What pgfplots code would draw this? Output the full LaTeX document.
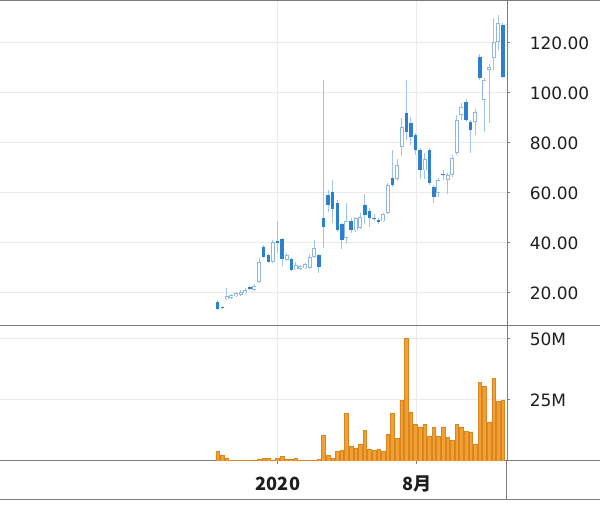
\documentclass[border=0pt]{standalone}
\usepackage{pgfplots}
\pgfplotsset{compat=1.18}
\usepackage{pgfplotstable}
\usepackage{fontspec}
\setmainfont{DejaVu Sans}
\newfontfamily\cjk{Noto Sans CJK JP}
\definecolor{darkblue}{RGB}{45,128,205}
\definecolor{lightblue}{RGB}{140,183,232}
\definecolor{wickblue}{RGB}{160,196,236}
\definecolor{volfill}{RGB}{242,160,50}
\definecolor{voledge}{RGB}{218,134,32}
\definecolor{gridgray}{RGB}{234,234,234}
\definecolor{axisgray}{RGB}{125,125,125}
\definecolor{labelc}{RGB}{30,30,30}

% weekly candles, down (filled) weeks
\pgfplotstableread{
i O H L C
0 16.5 17.0 13.0 13.5
1 14.3 14.6 13.5 13.9
7 22.2 22.8 21.0 21.6
10 38.5 39.2 34.0 34.5
11 35.2 35.5 32.0 32.3
13 40.6 48.9 36.0 39.8
14 41.5 42.0 30.8 33.5
16 33.5 34.0 28.6 29.2
22 35.2 35.6 28.0 30.5
23 49.9 105.2 37.9 46.5
24 59.2 61.0 52.5 55.2
25 60.5 65.0 48.0 53.5
26 55.9 57.2 44.5 45.2
27 47.5 48.0 37.5 41.3
29 48.6 50.0 44.0 45.3
32 55.0 59.5 47.5 51.0
33 52.6 54.0 46.5 49.9
34 50.1 51.5 48.7 49.5
35 49.3 49.9 47.5 48.5
38 65.9 77.0 62.5 63.2
41 91.9 105.2 81.2 84.5
42 87.9 90.5 79.0 82.5
43 83.2 84.0 75.2 77.2
44 77.2 78.0 65.5 69.2
46 77.2 78.0 63.0 63.9
47 62.5 63.0 55.9 58.5
49 67.6 69.0 65.0 67.1
54 96.5 97.5 88.5 89.2
55 88.5 89.0 76.0 85.2
57 114.5 115.5 105.0 105.9
62 127.2 128.0 106.0 106.5
}\downc

% up (hollow) weeks
\pgfplotstableread{
i O H L C
2 17.4 21.8 17.0 18.6
3 18.0 19.7 17.6 19.2
4 18.6 20.3 18.2 19.8
5 19.2 21.0 18.9 20.5
6 19.8 21.8 19.5 21.2
8 21.3 23.6 20.9 22.9
9 24.5 33.9 24.0 32.5
12 32.3 41.2 32.0 40.5
15 33.3 35.8 32.8 35.2
17 29.4 32.5 29.0 31.0
18 29.6 31.0 29.2 30.6
19 29.8 32.0 29.4 31.5
20 30.0 35.5 29.5 34.5
21 34.5 41.0 34.0 37.9
28 41.9 56.0 40.0 48.8
30 45.0 50.5 44.5 49.9
31 46.0 52.0 45.5 50.5
36 48.6 52.0 48.2 51.4
37 52.0 64.0 51.5 63.2
39 65.5 73.5 64.7 71.2
40 78.5 90.0 74.7 86.5
45 69.0 76.0 65.5 73.5
48 60.0 66.0 58.5 65.2
50 65.2 68.0 59.5 67.2
51 67.2 75.0 66.5 73.9
52 76.0 91.0 75.0 89.2
53 91.2 95.8 89.0 94.5
56 88.5 93.5 83.0 92.5
58 97.2 106.0 84.5 105.2
59 109.2 111.5 88.0 110.5
60 114.0 130.0 109.0 120.5
61 120.5 131.2 117.0 127.9
}\upc

% weekly volume, millions
\pgfplotstableread{
i v
0 3.9
1 2.3
2 1.3
3 0.4
4 0.3
5 0.3
6 0.3
7 0.3
8 0.5
9 0.9
10 1.1
11 1.0
12 0.2
13 1.1
14 1.8
15 0.7
16 0.6
17 1.0
18 0.3
19 0.3
20 0.4
21 0.4
22 0.6
23 10.6
24 2.2
25 1.3
26 3.8
27 4.3
28 19.5
29 6.1
30 5.4
31 6.8
32 12.5
33 5.0
34 4.5
35 5.0
36 3.8
37 11.0
38 19.5
39 9.3
40 24.9
41 50.3
42 19.8
43 15.0
44 14.0
45 15.0
46 10.2
47 14.0
48 10.2
49 14.0
50 9.7
51 8.6
52 15.0
53 13.8
54 12.0
55 11.9
56 6.8
57 32.2
58 30.7
59 15.7
60 33.9
61 24.6
62 24.9
}\vol

\pgfplotsset{
  panel/.style={
    scale only axis, width=304.2pt, anchor=south west,
    xmin=-47.33, xmax=62.9,
    axis x line*=bottom, axis y line*=right,
    axis line style={draw=axisgray, line width=0.6pt},
    xtick={13.1,43.3},
    grid=major, grid style={draw=gridgray, line width=0.6pt},
    tick align=outside, major tick length=2pt,
    tick style={draw=axisgray, line width=0.6pt},
    yticklabel style={anchor=west, inner sep=0pt, xshift=11.5pt,
      font=\fontsize{10.2}{12}\selectfont, text=labelc},
  },
  candle/.style={draw=none, mark=none, forget plot,
    error bars/y dir=plus, error bars/y explicit, error bars/error mark=none},
}

\begin{document}
\begin{tikzpicture}
\path[use as bounding box] (0,0) rectangle (360pt,303pt);

\begin{axis}[panel, at={(0pt,107.4pt)}, height=195pt,
  ymin=6.8, ymax=136.8,
  xticklabels={}, xtick style={draw=none},
  ytick={20,40,60,80,100,120},
  yticklabels={20.00,40.00,60.00,80.00,100.00,120.00}]
% wicks
\addplot[candle, error bars/error bar style={draw=wickblue, line width=0.6pt}]
  table[x=i, y=L, y error plus expr=\thisrow{H}-\thisrow{L}] \downc;
\addplot[candle, error bars/error bar style={draw=wickblue, line width=0.6pt}]
  table[x=i, y=L, y error plus expr=\thisrow{H}-\thisrow{L}] \upc;
% filled bodies
\addplot[candle, error bars/error bar style={draw=darkblue, line width=2.1pt}]
  table[x=i, y=C, y error plus expr=\thisrow{O}-\thisrow{C}] \downc;
% hollow bodies
\addplot[candle, error bars/error bar style={draw=lightblue, line width=2.4pt}]
  table[x=i, y=O, y error plus expr=\thisrow{C}-\thisrow{O}] \upc;
\addplot[candle, error bars/error bar style={draw=white, line width=1.3pt,
    shorten <=0.55pt, shorten >=0.55pt}]
  table[x=i, y=O, y error plus expr=\thisrow{C}-\thisrow{O}] \upc;
\end{axis}

\begin{axis}[panel, at={(0pt,26.4pt)}, height=81pt,
  ymin=0, ymax=55.3,
  ytick={25,50}, yticklabels={25M,50M},
  xticklabels={{\cjk\bfseries 2020},{\cjk\bfseries 8月}},
  xticklabel style={anchor=center, yshift=-11.6pt,
    font=\fontsize{10.9}{13}\selectfont, text=labelc}]
\addplot[ybar, bar width=0.8, fill=volfill, draw=voledge, line width=0.3pt]
  table[x=i, y=v] \vol;
\end{axis}

\draw[axisgray, line width=0.6pt] (0,302.6pt) -- (360pt,302.6pt);
\draw[axisgray, line width=0.6pt] (0,3pt) -- (360pt,3pt);
\draw[axisgray, line width=0.6pt] (304.2pt,107.4pt) -- (360pt,107.4pt);
\draw[axisgray, line width=0.6pt] (304.2pt,26.4pt) -- (360pt,26.4pt);
\draw[axisgray, line width=0.6pt] (304.2pt,3pt) -- (304.2pt,26.4pt);
\end{tikzpicture}
\end{document}
